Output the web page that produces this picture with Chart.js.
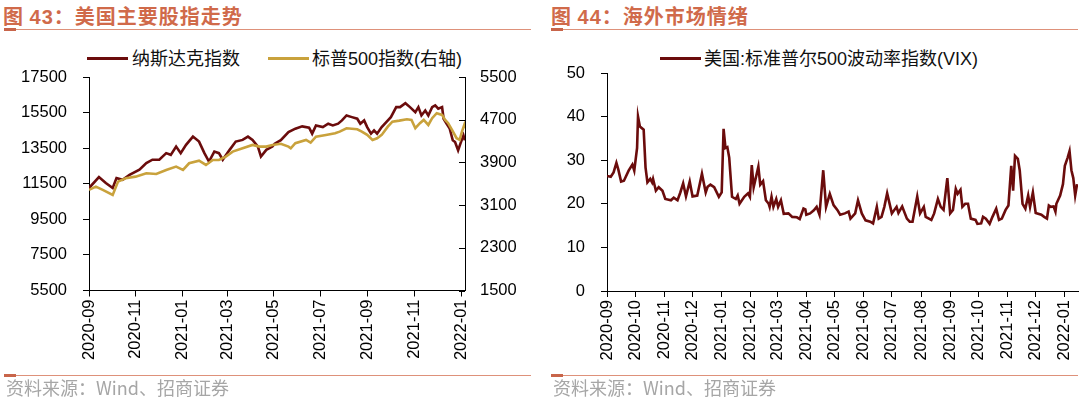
<!DOCTYPE html>
<html><head><meta charset="utf-8">
<script src="https://cdn.jsdelivr.net/npm/chart.js"></script>
<style>
html,body{margin:0;padding:0;background:#fff;}
body{width:1080px;height:399px;position:relative;overflow:hidden;font-family:"Liberation Sans","Noto Sans CJK SC",sans-serif;}
.title{position:absolute;top:3px;font-family:"Noto Sans CJK SC",sans-serif;font-size:20px;font-weight:bold;color:#D06A4A;letter-spacing:1px;white-space:nowrap;line-height:26px;}
.title .num{font-family:"Liberation Sans",sans-serif;}
.rule{position:absolute;height:1.5px;background:#DE917A;}
.accent{position:absolute;height:3px;background:#C8654A;}
.legend{position:absolute;font-family:"Liberation Sans","Noto Sans CJK SC",sans-serif;font-size:18px;color:#111;white-space:nowrap;line-height:22px;top:48px;}
.swatch{position:absolute;height:3.4px;top:57px;}
.source{position:absolute;top:375px;font-family:"Noto Sans CJK SC",sans-serif;font-size:18px;color:#A6A6A6;white-space:nowrap;line-height:24px;}
canvas{position:absolute;top:0;}
</style>
</head><body>
<div class="title" style="left:3px">图 <span class="num">43</span>：美国主要股指走势</div>
<div class="rule" style="left:4px;width:527px;top:28.5px"></div>
<div class="accent" style="left:4px;width:12px;top:27.5px"></div>
<div class="title" style="left:551px">图 <span class="num">44</span>：海外市场情绪</div>
<div class="rule" style="left:551px;width:527px;top:28.5px"></div>
<div class="accent" style="left:551px;width:12px;top:27.5px"></div>

<div class="swatch" id="sw1" style="left:87px;width:41px"></div>
<div class="legend" style="left:132px">纳斯达克指数</div>
<div class="swatch" id="sw2" style="left:268px;width:41px"></div>
<div class="legend" style="left:312px">标普500指数(右轴)</div>
<div class="swatch" id="sw3" style="left:660px;width:41px"></div>
<div class="legend" style="left:704px">美国:标准普尔500波动率指数(VIX)</div>

<canvas id="c1" width="540" height="399" style="left:0"></canvas>
<canvas id="c2" width="540" height="399" style="left:540px"></canvas>

<div class="rule" style="left:4px;width:527px;top:374.5px"></div>
<div class="accent" style="left:4px;width:12px;top:373.5px"></div>
<div class="rule" style="left:551px;width:527px;top:374.5px"></div>
<div class="accent" style="left:551px;width:12px;top:373.5px"></div>
<div class="source" style="left:6px">资料来源：Wind、招商证券</div>
<div class="source" style="left:553px">资料来源：Wind、招商证券</div>

<script>
// ---------------- data ----------------
const leftTickLabels = ['2020-09','2020-11','2021-01','2021-03','2021-05','2021-07','2021-09','2021-11','2022-01'];
const rightTickLabels = ['2020-09','2020-10','2020-11','2020-12','2021-01','2021-02','2021-03','2021-04','2021-05','2021-06','2021-07','2021-08','2021-09','2021-10','2021-11','2021-12','2022-01'];

const nasdaqDates = ['2020-09-01','2020-09-14','2020-09-23','2020-10-02','2020-10-07','2020-10-15','2020-10-24','2020-11-06','2020-11-15','2020-11-23','2020-12-02','2020-12-11','2020-12-17','2020-12-24','2020-12-30','2021-01-06','2021-01-15','2021-01-23','2021-01-30','2021-02-05','2021-02-12','2021-02-18','2021-02-23','2021-03-04','2021-03-12','2021-03-21','2021-03-28','2021-04-03','2021-04-10','2021-04-14','2021-04-21','2021-04-29','2021-05-02','2021-05-10','2021-05-20','2021-05-29','2021-06-07','2021-06-16','2021-06-20','2021-06-25','2021-07-04','2021-07-11','2021-07-17','2021-07-24','2021-07-29','2021-08-04','2021-08-11','2021-08-18','2021-08-22','2021-08-27','2021-08-31','2021-09-05','2021-09-09','2021-09-13','2021-09-19','2021-09-25','2021-10-01','2021-10-08','2021-10-13','2021-10-20','2021-10-26','2021-11-02','2021-11-06','2021-11-10','2021-11-15','2021-11-19','2021-11-24','2021-11-28','2021-12-02','2021-12-07','2021-12-09','2021-12-13','2021-12-17','2021-12-21','2021-12-24','2021-12-28','2021-12-31','2022-01-04','2022-01-06'];
const nasdaqValues = [11260,11875,11540,11260,11820,11725,12005,12290,12660,12850,12850,13220,13125,13590,13220,13685,14150,13870,13220,12750,13310,13220,12850,13405,13870,13965,14150,13965,13590,13030,13405,13590,13754,13950,14405,14595,14725,14650,14315,14780,14685,14875,14780,14875,15060,15340,15245,15155,14875,15060,14685,14315,14500,14315,14685,14966,15245,15807,15807,16030,15807,15526,15807,15340,15620,15340,15807,15900,15715,15807,15155,14875,14595,13940,13845,13380,13755,14220,13940];

const spxDates = ['2020-09-01','2020-09-10','2020-09-19','2020-10-02','2020-10-09','2020-10-19','2020-11-01','2020-11-15','2020-11-28','2020-12-11','2020-12-24','2021-01-02','2021-01-10','2021-01-23','2021-02-01','2021-02-10','2021-02-18','2021-02-27','2021-03-08','2021-03-21','2021-04-03','2021-04-12','2021-04-21','2021-04-29','2021-05-10','2021-05-20','2021-05-23','2021-05-29','2021-06-12','2021-06-18','2021-06-25','2021-07-08','2021-07-20','2021-07-26','2021-08-04','2021-08-18','2021-08-24','2021-08-31','2021-09-07','2021-09-13','2021-09-19','2021-09-27','2021-10-03','2021-10-12','2021-10-22','2021-10-28','2021-11-02','2021-11-08','2021-11-13','2021-11-19','2021-11-24','2021-11-30','2021-12-07','2021-12-11','2021-12-15','2021-12-20','2021-12-26','2021-12-30','2022-01-02','2022-01-05','2022-01-06'];
const spxValues = [3384,3446,3384,3290,3540,3603,3633,3696,3684,3759,3821,3759,3884,3933,3852,3946,3946,4008,4102,4165,4227,4196,4196,4227,4250,4195,4165,4259,4321,4271,4383,4415,4446,4477,4540,4521,4477,4415,4321,4353,4415,4570,4664,4683,4709,4696,4540,4634,4696,4602,4728,4822,4790,4696,4634,4508,4353,4321,4477,4602,4540];

const vixDates = ['2020-09-01','2020-09-05','2020-09-08','2020-09-11','2020-09-13','2020-09-16','2020-09-19','2020-09-24','2020-09-28','2020-09-30','2020-10-03','2020-10-04','2020-10-06','2020-10-10','2020-10-12','2020-10-14','2020-10-17','2020-10-19','2020-10-20','2020-10-23','2020-10-26','2020-10-30','2020-11-02','2020-11-08','2020-11-11','2020-11-15','2020-11-18','2020-11-21','2020-11-24','2020-11-28','2020-12-01','2020-12-06','2020-12-11','2020-12-15','2020-12-17','2020-12-20','2020-12-24','2020-12-29','2021-01-01','2021-01-03','2021-01-05','2021-01-07','2021-01-09','2021-01-12','2021-01-16','2021-01-18','2021-01-20','2021-01-25','2021-01-29','2021-01-31','2021-02-02','2021-02-04','2021-02-09','2021-02-11','2021-02-14','2021-02-17','2021-02-20','2021-02-21','2021-02-23','2021-02-25','2021-02-28','2021-03-02','2021-03-05','2021-03-08','2021-03-13','2021-03-17','2021-03-22','2021-03-25','2021-03-29','2021-03-31','2021-04-01','2021-04-05','2021-04-09','2021-04-12','2021-04-15','2021-04-19','2021-04-22','2021-04-26','2021-04-30','2021-05-04','2021-05-07','2021-05-12','2021-05-16','2021-05-18','2021-05-23','2021-05-26','2021-05-30','2021-06-03','2021-06-08','2021-06-11','2021-06-15','2021-06-17','2021-06-20','2021-06-23','2021-06-26','2021-07-01','2021-07-06','2021-07-08','2021-07-12','2021-07-17','2021-07-20','2021-07-23','2021-07-28','2021-07-31','2021-08-04','2021-08-06','2021-08-12','2021-08-15','2021-08-19','2021-08-22','2021-08-25','2021-08-29','2021-09-01','2021-09-04','2021-09-07','2021-09-09','2021-09-12','2021-09-14','2021-09-17','2021-09-20','2021-09-23','2021-09-28','2021-09-30','2021-10-04','2021-10-06','2021-10-09','2021-10-13','2021-10-16','2021-10-20','2021-10-23','2021-10-26','2021-10-30','2021-11-02','2021-11-05','2021-11-07','2021-11-09','2021-11-12','2021-11-14','2021-11-17','2021-11-20','2021-11-23','2021-11-25','2021-11-28','2021-12-01','2021-12-07','2021-12-10','2021-12-13','2021-12-15','2021-12-17','2021-12-20','2021-12-22','2021-12-23','2021-12-27','2021-12-30','2022-01-01','2022-01-04','2022-01-06','2022-01-08','2022-01-10','2022-01-12','2022-01-14'];
const vixValues = [26.4,26.2,27.2,29.4,27.9,25.1,25.3,27.6,29.0,27.6,32.8,40.0,37.7,37.0,28.3,24.9,25.7,24.9,25.7,23.0,23.8,23.0,21.1,20.8,21.4,20.8,22.6,24.7,21.7,25.1,21.7,21.9,26.9,22.6,23.9,24.4,23.8,21.6,22.6,37.2,32.8,33.0,30.6,21.6,21.1,21.9,20.0,21.6,22.4,21.6,28.9,23.8,28.5,24.4,25.2,20.8,20.0,19.3,21.6,19.3,21.1,19.3,20.8,17.7,17.8,17.0,16.9,16.5,18.9,18.7,17.5,17.8,18.5,19.3,17.5,27.7,19.3,22.3,19.7,18.6,17.5,17.8,18.2,16.6,17.8,20.8,17.8,16.2,15.9,15.5,19.3,16.6,17.0,19.3,22.4,17.8,19.3,17.9,19.4,16.6,15.9,15.9,21.7,17.8,19.3,17.0,16.3,17.8,21.1,19.3,18.6,25.9,17.8,18.6,23.4,22.3,23.2,19.3,20.0,20.0,16.6,16.3,15.4,15.5,17.0,16.6,15.4,17.0,18.9,16.3,16.6,18.6,19.6,28.7,23.0,31.0,30.3,27.7,20.0,18.9,21.9,19.3,22.6,17.9,17.5,17.0,16.6,19.6,19.3,19.4,18.2,20.0,21.9,24.5,28.7,30.6,32.1,27.7,25.9,21.9,24.5];

const leftEnd = '2022-01-06';
const rightEnd = '2022-01-15';

// ---------------- helpers ----------------
const ORIGIN = Date.UTC(2020, 8, 1);
function dayOf(s){ const p = s.split('-').map(Number); return (Date.UTC(p[0], p[1]-1, p[2] || 1) - ORIGIN) / 86400000; }
function pts(dates, vals){ return dates.map((d,i)=>({x: dayOf(d), y: vals[i]})); }

const NAS_COLOR = '#6B0C0C';
const SPX_COLOR = '#C9A23C';
const VIX_COLOR = '#6B0C0C';
document.getElementById('sw1').style.background = NAS_COLOR;
document.getElementById('sw2').style.background = SPX_COLOR;
document.getElementById('sw3').style.background = VIX_COLOR;

const TICK_FONT = {family: 'Liberation Sans', size: 16.5};
const plain = v => String(v);

function fixBox(w, h){
  return function(s){
    if (w != null) s.width = w;
    if (h != null) s.height = h;
    s.paddingLeft = 0; s.paddingRight = 0; s.paddingTop = 0; s.paddingBottom = 0;
  };
}

function monthAxis(labels, maxDay, height){
  const map = new Map(labels.map(l => [dayOf(l), l]));
  return {
    type: 'linear', position: 'bottom', min: 0, max: maxDay,
    afterBuildTicks: s => { s.ticks = labels.map(l => ({value: dayOf(l)})); },
    afterFit: fixBox(null, height),
    grid: {drawOnChartArea: false, drawTicks: true, tickLength: 6, color: '#000', lineWidth: 1},
    border: {display: true, color: '#000', width: 1},
    ticks: {autoSkip: false, minRotation: 90, maxRotation: 90, padding: 3, color: '#000', font: TICK_FONT,
            callback: v => map.has(v) ? map.get(v) : ''}
  };
}

const inwardTicks = {
  id: 'inwardTicks',
  afterDraw(chart){
    const s = chart.scales.y1; if (!s) return;
    const ctx = chart.ctx; ctx.save();
    ctx.strokeStyle = '#000'; ctx.lineWidth = 1;
    s.ticks.forEach(t => {
      const y = Math.round(s.getPixelForValue(t.value)) + 0.5;
      ctx.beginPath(); ctx.moveTo(s.left - 6, y); ctx.lineTo(s.left, y); ctx.stroke();
    });
    ctx.restore();
  }
};

Chart.defaults.font.family = 'Liberation Sans';

new Chart(document.getElementById('c1'), {
  type: 'line',
  data: {
    datasets: [
      {label: '纳斯达克指数', data: pts(nasdaqDates, nasdaqValues), yAxisID: 'y', borderColor: NAS_COLOR, backgroundColor: NAS_COLOR, borderWidth: 2.6, pointRadius: 0, tension: 0, order: 1},
      {label: '标普500指数(右轴)', data: pts(spxDates, spxValues), yAxisID: 'y1', borderColor: SPX_COLOR, backgroundColor: SPX_COLOR, borderWidth: 2.6, pointRadius: 0, tension: 0, order: 0}
    ]
  },
  options: {
    responsive: false, animation: false,
    layout: {padding: {top: 77, bottom: 38.5, left: 0, right: 0}},
    plugins: {legend: {display: false}, tooltip: {enabled: false}},
    scales: {
      x: monthAxis(leftTickLabels, dayOf(leftEnd), 70),
      y: {
        type: 'linear', position: 'left', min: 5500, max: 17500,
        afterFit: fixBox(89, null),
        grid: {drawOnChartArea: false, tickLength: 6, color: '#000'},
        border: {display: true, color: '#000', width: 1},
        ticks: {stepSize: 2000, padding: 16, color: '#000', font: TICK_FONT, callback: plain}
      },
      y1: {
        type: 'linear', position: 'right', min: 1500, max: 5500,
        afterFit: fixBox(75, null),
        grid: {drawOnChartArea: false, drawTicks: false, color: '#000'},
        border: {display: true, color: '#000', width: 1},
        ticks: {stepSize: 800, padding: 15, color: '#000', font: TICK_FONT, callback: plain}
      }
    }
  },
  plugins: [inwardTicks]
});

new Chart(document.getElementById('c2'), {
  type: 'line',
  data: {
    datasets: [
      {label: '美国:标准普尔500波动率指数(VIX)', data: pts(vixDates, vixValues), yAxisID: 'y', borderColor: VIX_COLOR, backgroundColor: VIX_COLOR, borderWidth: 2.6, pointRadius: 0, tension: 0}
    ]
  },
  options: {
    responsive: false, animation: false,
    layout: {padding: {top: 73, bottom: 38, left: 0, right: 2}},
    plugins: {legend: {display: false}, tooltip: {enabled: false}},
    scales: {
      x: monthAxis(rightTickLabels, dayOf(rightEnd), 70),
      y: {
        type: 'linear', position: 'left', min: 0, max: 50,
        afterFit: fixBox(67, null),
        grid: {drawOnChartArea: false, tickLength: 6, color: '#000'},
        border: {display: true, color: '#000', width: 1},
        ticks: {stepSize: 10, padding: 16, color: '#000', font: TICK_FONT, callback: plain}
      }
    }
  }
});
</script>
</body></html>
